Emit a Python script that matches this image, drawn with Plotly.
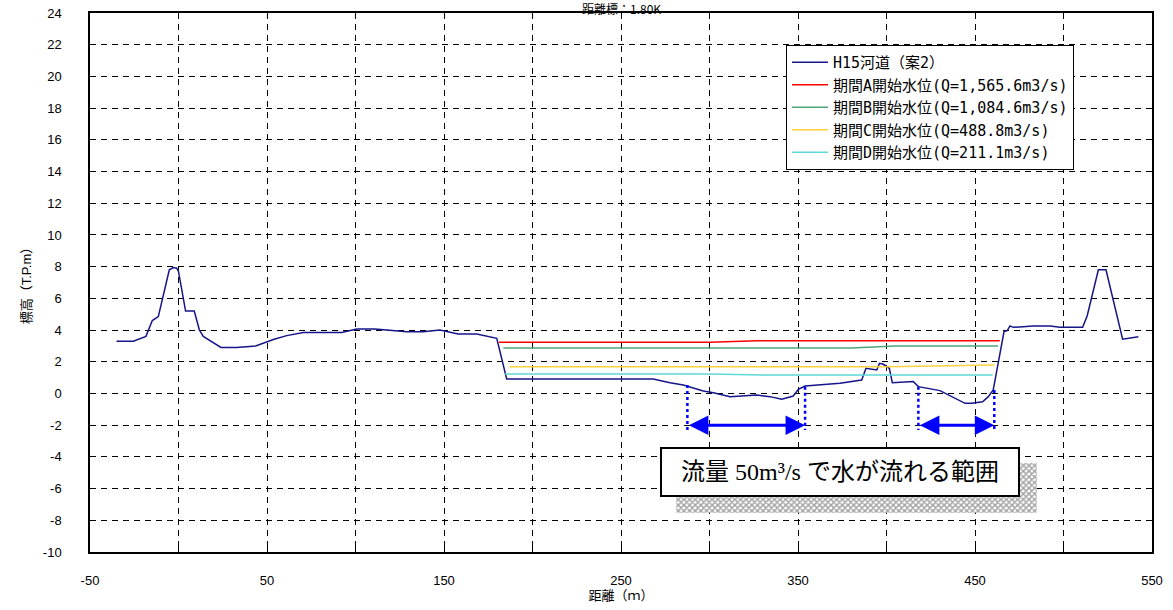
import plotly.graph_objects as go

# ---- data ----
dist = [-35, -25.5, -18.4, -14.8, -11.4, -5.2, -2.9, -1, 0, 4, 8.9, 11.8, 14, 24, 32.9, 43.6,
        53.6, 61.1, 70.5, 92.2, 100.7, 111, 129, 138.3, 147.7, 158, 168.5, 176, 179.8, 185.4,
        268.2, 277.7, 285.2, 296.5, 302.2, 311.6, 319.1, 326.7, 334.2, 340.8, 347.3, 350.2,
        354, 358.6, 373.7, 386, 388.4, 394.5, 396, 398.2, 401.6, 403.3, 415.1, 418, 430.2,
        444.4, 448.1, 454.3, 457.5, 460.3, 466.4, 468.2, 469.8, 471.6, 482.9, 492.4, 498,
        510.8, 513.4, 519.7, 524, 533.4, 542.3]
elev = [3.3, 3.3, 3.6, 4.6, 4.85, 7.8, 7.94, 7.9, 7.7, 5.2, 5.2, 4.0, 3.6, 2.9, 2.9, 3.0,
        3.4, 3.65, 3.85, 3.85, 4.07, 4.07, 3.9, 3.9, 4.0, 3.75, 3.75, 3.6, 3.48, 0.91,
        0.91, 0.68, 0.54, 0.16, 0.05, -0.2, -0.16, -0.1, -0.2, -0.37, -0.16, 0.26,
        0.47, 0.52, 0.64, 0.85, 1.59, 1.48, 1.9, 1.84, 1.59, 0.68, 0.75, 0.43, 0.18,
        -0.62, -0.62, -0.52, -0.2, 0.22, 3.9, 3.96, 4.26, 4.17, 4.26, 4.26, 4.17,
        4.17, 4.9, 7.8, 7.8, 3.42, 3.58]

wl_a_x = [181, 300, 327, 464]
wl_a_y = [3.23, 3.23, 3.33, 3.33]
wl_b_x = [183.5, 380, 405, 463]
wl_b_y = [2.87, 2.87, 3.0, 3.0]
wl_c_x = [187, 400, 461]
wl_c_y = [1.69, 1.69, 1.8]
wl_d_x = [184.5, 300, 330, 460]
wl_d_y = [1.23, 1.23, 1.17, 1.17]

names = ["H15河道（案2）",
         "期間A開始水位(Q=1,565.6m3/s)",
         "期間B開始水位(Q=1,084.6m3/s)",
         "期間C開始水位(Q=488.8m3/s)",
         "期間D開始水位(Q=211.1m3/s)"]
colors = ["#15158a", "#ff0000", "#4fa577", "#ffd23c", "#5fd8d8"]

# flow range ranges (m) for Q=50 m3/s
ranges = [(287.5, 354.0), (418.0, 460.9)]
range_top = [(0.54, 0.43), (0.43, 0.22)]
arrow_y = -2.0
dotted_bottom = -2.3

note_text = "流量 50m³/s で水が流れる範囲"
title_text = "距離標：1.80K"

xticks = [-50, 50, 150, 250, 350, 450, 550]
yticks = list(range(-10, 25, 2))

fig = go.Figure()

# shadow of note box (hatched)
fig.add_trace(go.Scatter(
    x=[281.1, 484.9, 484.9, 281.1, 281.1], y=[-4.38, -4.38, -7.52, -7.52, -4.38],
    mode="lines", line=dict(width=0, color="rgba(0,0,0,0)"), fill="toself",
    fillcolor="white",
    fillpattern=dict(shape="x", fgcolor="#444444", bgcolor="white", size=4, solidity=0.6),
    showlegend=False, hoverinfo="skip"))

series = [(dist, elev), (wl_a_x, wl_a_y), (wl_b_x, wl_b_y), (wl_c_x, wl_c_y), (wl_d_x, wl_d_y)]
for (xs, ys), nm, c in zip(series, names, colors):
    fig.add_trace(go.Scatter(x=xs, y=ys, mode="lines", name=nm,
                             line=dict(color=c, width=1.5)))

# dotted verticals
for (x0, x1), (t0, t1) in zip(ranges, range_top):
    for xv, tv in ((x0, t0), (x1, t1)):
        fig.add_trace(go.Scatter(x=[xv, xv], y=[tv, dotted_bottom], mode="lines",
                                 line=dict(color="#0000ff", width=2.5, dash="dot"),
                                 showlegend=False, hoverinfo="skip"))

annotations = []
for x0, x1 in ranges:
    annotations.append(dict(x=x1, y=arrow_y, ax=x0, ay=arrow_y, xref="x", yref="y",
                            axref="x", ayref="y", text="", showarrow=True,
                            arrowhead=2, startarrowhead=2, arrowside="end+start",
                            arrowsize=1.3, startarrowsize=1.3, arrowwidth=3,
                            arrowcolor="#0000ff", standoff=0, startstandoff=0))

annotations.append(dict(x=373.9, y=-4.97, xref="x", yref="y", text=note_text,
                        showarrow=False, bgcolor="white", bordercolor="black",
                        borderwidth=2, borderpad=1, width=354, height=44,
                        font=dict(family="Liberation Serif, Noto Sans CJK JP", size=24,
                                  color="black")))

annotations.append(dict(x=0.5, y=1 + 13 / 539, xref="paper", yref="paper", yanchor="top",
                        yshift=2, text=title_text, showarrow=False,
                        font=dict(family="Noto Sans CJK JP", size=12, color="black")))

grid = dict(showgrid=True, gridcolor="black", gridwidth=1, griddash="6px,5px")

fig.update_layout(
    width=1173, height=610,
    margin=dict(l=90, r=21, t=13, b=58, autoexpand=False),
    paper_bgcolor="white", plot_bgcolor="white",
    font=dict(family="Liberation Sans, Noto Sans CJK JP", size=12, color="black"),
    annotations=annotations,
    legend=dict(x=(786 - 90) / 1062, y=(552 - 45) / 539, xanchor="left", yanchor="top",
                bgcolor="white", bordercolor="black", borderwidth=1,
                font=dict(family="DejaVu Sans Mono, Noto Sans CJK JP", size=15),
                tracegroupgap=0, itemwidth=36),
    xaxis=dict(range=[-50, 550], tickvals=xticks, ticktext=[str(v) for v in xticks],
               ticks="inside", ticklen=5, tickcolor="black", showline=True,
               linecolor="black", linewidth=1.5, mirror="ticks", zeroline=False,
               ticklabelstandoff=16, automargin=False,
               minor=dict(dtick=50, tick0=0, ticks="inside", ticklen=5, tickcolor="black",
                          showgrid=True, gridcolor="black", griddash="6px,5px"),
               title=dict(text="距離（ｍ）", standoff=0, font=dict(size=13)),
               tickfont=dict(size=13), **grid),
    yaxis=dict(range=[-10, 24], tickvals=yticks, ticktext=[str(v) for v in yticks],
               ticks="inside", ticklen=5, tickcolor="black", showline=True,
               linecolor="black", linewidth=1.5, mirror=True, zeroline=False,
               ticklabelstandoff=24, automargin=False,
               title=dict(text="標高（T.P.m）", standoff=8, font=dict(size=13)),
               tickfont=dict(size=13), **grid),
)

fig.write_html("out.html", config={"displayModeBar": False},
               post_script="document.body.style.margin='0';")
